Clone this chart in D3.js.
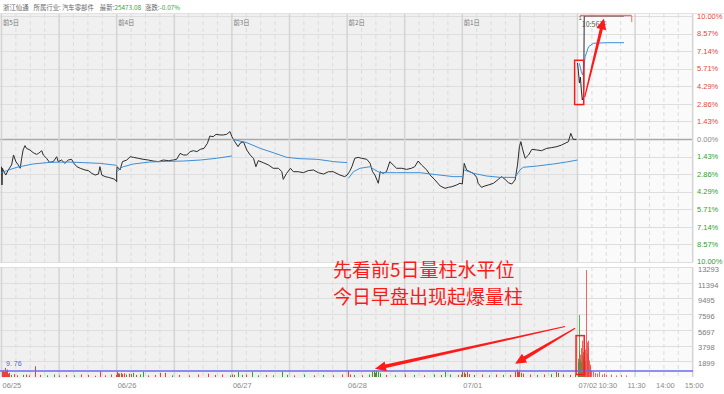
<!DOCTYPE html>
<html>
<head>
<meta charset="utf-8">
<title>浙江仙通 五日分时</title>
<script src="https://d3js.org/d3.v7.min.js"></script>
<style>
  body { margin: 0; background: #fff; }
  svg text { font-family: "Liberation Sans Narrow", "Liberation Sans", Arial, sans-serif; }
  svg .cn { font-family: "Noto Sans CJK SC", sans-serif; }
</style>
</head>
<body>
<svg id="grafico" width="724" height="394"></svg>
<script>
// ---- dados ----
var diasLabel = ["前5日", "前4日", "前3日", "前2日", "前1日"];
var datas = ["06/25", "06/26", "06/27", "06/28", "07/01", "07/02"];
var horasHoje = [[60, "10:30"], [120, "11:30"], [180, "14:00"], [240, "15:00"]];
var ticksPct = [10, 8.57, 7.14, 5.71, 4.29, 2.86, 1.43, 0, -1.43, -2.86, -4.29, -5.71, -7.14, -8.57, -10];
var ticksVol = [1899, 3798, 5697, 7596, 9495, 11394, 13293];
var nivelVol = 725, nivelVolTexto = "9. 76";

// preco: [minuto do dia, % variacao]
var preco1 = [[0,-2.25],[1,-3.74],[2,-2.38],[5,-2.66],[9,-2.93],[14,-2.52],[21,-2.11],[25,-1.30],[30,-1.84],[35,-2.11],[39,-2.38],[42,-1.57],[45,-0.89],[49,-0.54],[52,-0.76],[59,-0.89],[66,-1.11],[73,-1.25],[77,-1.17],[84,-0.95],[87,-1.30],[94,-1.57],[100,-1.90],[108,-1.84],[115,-1.44],[118,-1.84],[125,-1.71],[132,-1.98],[139,-1.71],[146,-1.65],[151,-1.98],[157,-2.25],[164,-2.38],[174,-2.52],[181,-2.57],[188,-2.79],[195,-2.93],[202,-2.85],[205,-2.25],[209,-2.93],[216,-3.06],[223,-3.12],[230,-3.20],[236,-3.28],[240,-3.47]];
var preco2 = [[0,-2.66],[1,-2.25],[7,-2.52],[12,-1.84],[21,-1.71],[28,-1.44],[35,-1.49],[45,-1.57],[55,-1.65],[66,-1.71],[76,-1.79],[87,-1.84],[97,-1.71],[108,-1.76],[118,-1.71],[125,-1.65],[132,-1.17],[139,-1.30],[146,-1.30],[153,-1.03],[160,-0.95],[167,-1.03],[174,-0.84],[182,-0.76],[189,-0.35],[194,0.24],[201,0.19],[207,0.38],[215,0.33],[222,0.33],[229,0.38],[236,0.60],[240,0.19]];
var preco3 = [[2,0.05],[6,-0.22],[13,-0.62],[17,-0.35],[24,-0.22],[31,-0.89],[38,-1.30],[45,-1.57],[50,-2.25],[55,-1.76],[65,-1.92],[76,-2.11],[86,-2.38],[97,-2.38],[104,-2.66],[107,-3.28],[114,-2.79],[122,-2.38],[128,-2.66],[138,-2.66],[149,-2.74],[159,-2.57],[170,-2.52],[180,-2.74],[191,-2.85],[201,-2.66],[211,-2.66],[225,-2.93],[235,-3.06],[240,-2.93]];
var preco4 = [[5,-2.66],[10,-2.25],[16,-1.57],[23,-1.49],[30,-1.57],[41,-1.65],[48,-1.98],[53,-2.66],[58,-2.93],[65,-3.60],[69,-2.66],[75,-2.79],[82,-2.66],[89,-1.84],[96,-2.11],[103,-2.38],[114,-2.38],[124,-2.47],[134,-2.38],[141,-2.25],[148,-1.79],[155,-2.11],[166,-2.52],[173,-2.93],[183,-3.33],[194,-3.82],[204,-4.01],[211,-3.93],[218,-3.88],[228,-3.74],[235,-3.60],[240,-3.66]];
var preco5 = [[4,-1.98],[9,-2.52],[16,-2.66],[23,-2.79],[30,-3.12],[33,-3.60],[40,-3.93],[47,-3.82],[54,-3.74],[65,-3.60],[75,-3.28],[82,-3.06],[89,-3.28],[96,-3.55],[103,-3.66],[110,-3.33],[115,-2.11],[119,-0.62],[122,-0.22],[126,-0.89],[131,-1.57],[138,-1.30],[145,-0.84],[155,-0.89],[165,-0.95],[176,-0.76],[186,-0.70],[197,-0.62],[207,-0.49],[214,-0.35],[221,-0.22],[226,0.46],[231,-0.03],[238,-0.03]];
var preco6 = [[0,6.18],[2,5.45],[4,4.55],[6,5.04],[8,3.98],[10,3.17],[12,3.41],[13,4.23],[14,10],[97,10]];

// media (linha azul)
var media1 = [[0,-2.74],[11,-2.57],[32,-2.30],[66,-2.03],[101,-1.90],[136,-1.87],[170,-1.92],[205,-1.98],[240,-2.14]];
var media2 = [[1,-2.66],[7,-2.38],[14,-2.25],[35,-2.03],[69,-1.87],[104,-1.82],[139,-1.79],[174,-1.71],[208,-1.57],[240,-1.38]];
var media3 = [[2,-0.03],[31,-0.30],[59,-0.76],[86,-1.11],[114,-1.49],[142,-1.60],[177,-1.65],[204,-1.79],[211,-1.84],[240,-1.92]];
var media4 = [[3,-3.20],[13,-2.66],[27,-2.38],[48,-2.25],[58,-2.52],[69,-2.74],[103,-2.74],[152,-2.74],[186,-2.90],[221,-3.06],[240,-3.06]];
var media5 = [[4,-2.52],[23,-2.79],[51,-3.01],[79,-3.12],[110,-3.12],[120,-2.52],[127,-2.30],[155,-2.20],[190,-2.03],[217,-1.87],[240,-1.71]];
var media6 = [[4,6.15],[8,5.47],[11,5.20],[16,6.69],[23,7.50],[33,7.78],[61,7.83],[97,7.83]];

// volume: [minuto, volume, 1 = sobe (vermelho) / -1 = desce (verde)]
var vol1 = [[0,700,1],[1,500,1],[3,850,1],[5,600,1],[7,1100,1],[9,750,1],[11,900,1],[13,400,1],[16,500,1],[20,250,-1],[25,350,1],[32,200,1],[45,250,-1],[50,300,1],[58,200,1],[70,1300,1],[80,250,1],[95,200,-1],[110,300,-1],[120,200,1],[135,250,1],[150,200,-1],[165,300,1],[180,250,1],[195,150,1],[205,700,1],[215,200,1],[228,300,1],[238,250,1]];
var vol2 = [[0,600,1],[2,450,1],[5,400,-1],[8,500,1],[12,350,1],[16,450,1],[20,300,-1],[25,400,1],[30,350,1],[34,500,-1],[40,250,1],[48,300,-1],[55,600,-1],[65,200,1],[80,250,1],[90,500,1],[100,500,1],[115,200,-1],[130,250,1],[150,200,1],[170,300,1],[190,400,1],[205,250,1],[220,300,1],[235,200,-1]];
var vol3 = [[0,300,1],[5,250,-1],[13,600,-1],[20,250,-1],[30,300,1],[42,600,-1],[55,200,-1],[70,250,1],[85,200,-1],[104,650,-1],[115,250,-1],[130,200,1],[150,300,-1],[170,200,1],[190,250,-1],[210,200,1],[230,300,1]];
var vol4 = [[1,750,1],[5,300,1],[15,250,-1],[30,200,1],[45,300,-1],[52,650,-1],[55,800,-1],[58,500,1],[61,750,-1],[64,600,-1],[68,450,-1],[80,250,1],[100,200,-1],[120,300,1],[140,250,-1],[160,200,1],[180,300,-1],[195,250,1],[204,600,-1],[215,300,-1],[230,250,1],[238,300,-1]];
var vol5 = [[0,650,1],[3,550,1],[6,400,-1],[10,600,1],[14,350,1],[25,250,-1],[40,300,1],[55,200,-1],[70,300,1],[85,250,-1],[100,250,1],[110,700,1],[113,900,1],[116,600,1],[119,800,1],[122,500,-1],[126,400,1],[140,300,1],[155,250,-1],[170,300,1],[185,350,-1],[195,600,1],[200,500,-1],[210,300,1],[225,250,1],[235,300,-1]];
var vol6 = [[0,1500,1],[1,2200,1],[2,1800,-1],[3,3200,1],[4,7490,-1],[5,2700,1],[6,2000,-1],[7,3500,1],[8,1800,1],[9,2600,-1],[10,4400,1],[11,2200,1],[12,3000,-1],[13,1600,1],[14,2400,1],[15,1900,1],[16,3300,1],[18,12930,1],[19,4200,1],[20,2800,1],[21,4400,1],[22,3600,1],[23,2000,1],[25,1200,1],[27,1500,1],[29,800,1],[32,700,1],[36,500,1],[40,400,1],[45,600,1],[50,300,1],[55,400,1],[60,250,1],[70,300,1],[80,200,1],[90,250,1],[100,200,1]];

var precos = [preco1, preco2, preco3, preco4, preco5, preco6];
var medias = [media1, media2, media3, media4, media5, media6];
var volumes = [vol1, vol2, vol3, vol4, vol5, vol6];

// ---- desenho ----
var svg = d3.select("#grafico");
var larguraPlot = 693;
var topoPreco = 14, baseVol = 377;

var x = d3.scaleLinear().domain([0, 6 * 240]).range([1.5, 692.7]);
var yP = d3.scaleLinear().domain([-10, 10]).range([262, 16]);
var yV = d3.scaleLinear().domain([0, 13293]).range([baseVol, 267]);

var vermelho = "#e8413c", verde = "#2ea02e";

// fundos
svg.append("rect").attr("x", 0).attr("y", topoPreco).attr("width", larguraPlot).attr("height", 262 - topoPreco).attr("fill", "#f0f0f0");
svg.append("rect").attr("x", 0).attr("y", 267).attr("width", larguraPlot).attr("height", baseVol - 267 + 1).attr("fill", "#f0f0f0");
svg.append("rect").attr("x", x(1200)).attr("y", topoPreco).attr("width", larguraPlot - x(1200)).attr("height", 262 - topoPreco).attr("fill", "#fafafa");
svg.append("rect").attr("x", x(1200)).attr("y", 267).attr("width", larguraPlot - x(1200)).attr("height", baseVol - 267 + 1).attr("fill", "#fafafa");
svg.append("line").attr("x1", 0).attr("x2", 724).attr("y1", topoPreco - 0.5).attr("y2", topoPreco - 0.5).attr("stroke", "#e2e2e2");

// grade horizontal
svg.append("g").selectAll("line").data(ticksPct).join("line")
  .attr("x1", 0).attr("x2", larguraPlot)
  .attr("y1", d => Math.round(yP(d)) + 0.5).attr("y2", d => Math.round(yP(d)) + 0.5)
  .attr("stroke", d => d === 0 ? "#a9a9a9" : "#dedede")
  .attr("stroke-width", d => d === 0 ? 1.5 : 1);
svg.append("g").selectAll("line").data(ticksVol).join("line")
  .attr("x1", 0).attr("x2", larguraPlot)
  .attr("y1", d => Math.round(yV(d)) + 0.5).attr("y2", d => Math.round(yV(d)) + 0.5)
  .attr("stroke", "#dedede");

// grade vertical: cada 30 min, solida no inicio do dia e no meio-dia
var meiaHoras = d3.range(0, 49).map(i => i * 30);
[[topoPreco, 262], [267, baseVol]].forEach(function (faixa) {
  svg.append("g").selectAll("line").data(meiaHoras).join("line")
    .attr("x1", d => x(d)).attr("x2", d => x(d))
    .attr("y1", faixa[0]).attr("y2", faixa[1])
    .attr("stroke", d => d % 120 === 0 ? "#d4d4d4" : "#dcdcdc")
    .attr("stroke-width", d => d % 120 === 0 ? 1.5 : 1)
    .attr("stroke-dasharray", d => d % 120 === 0 ? null : "4,3");
});

// eixo direito (percentual)
svg.append("g").selectAll("text").data(ticksPct).join("text")
  .attr("x", 697).attr("y", d => d === -10 ? yP(d) + 1.5 : yP(d) + 2.7)
  .attr("font-size", 7.5)
  .attr("fill", d => d > 0 ? vermelho : (d < 0 ? verde : "#8a8a8a"))
  .text(d => Math.abs(d).toFixed(2) + "%");
// eixo direito (volume)
svg.append("g").selectAll("text").data(ticksVol).join("text")
  .attr("x", 698).attr("y", d => yV(d) + 4.8)
  .attr("font-size", 7.5).attr("fill", "#7a7a7a")
  .text(d => d);

// eixo x
svg.append("g").selectAll("text").data(datas).join("text")
  .attr("x", (d, i) => x(i * 240) + 1).attr("y", 388)
  .attr("font-size", 7.5).attr("fill", "#8a8a8a")
  .text(d => d);
svg.append("g").selectAll("text").data(horasHoje).join("text")
  .attr("x", d => x(1200 + d[0]) + 1.5).attr("y", 388)
  .attr("text-anchor", "middle")
  .attr("font-size", 7.5).attr("fill", "#8a8a8a")
  .text(d => d[1]);

// rotulos dos dias
svg.append("g").selectAll("text").data(diasLabel).join("text")
  .attr("class", "cn")
  .attr("x", (d, i) => x(i * 240) + 1.5).attr("y", 25)
  .attr("font-size", 6.3).attr("fill", "#777")
  .text(d => d);

// cabecalho
var cab = svg.append("text").attr("class", "cn").attr("x", 3).attr("y", 9.5).attr("font-size", 6.4).attr("fill", "#666");
cab.append("tspan").text("浙江仙通");
cab.append("tspan").attr("dx", 5).text("所属行业:");
cab.append("tspan").attr("dx", 1).text("汽车零部件");
cab.append("tspan").attr("dx", 6).text("最新:");
cab.append("tspan").attr("fill", "#2aa52a").text("25473.08");
cab.append("tspan").attr("dx", 4).text("涨跌:");
cab.append("tspan").attr("fill", "#2aa52a").text("-0.07%");

// linhas de preco e media (hoje comeca separado, gap de abertura)
var linha = d3.line();
var antes = [];
precos.slice(0, 5).forEach(function (dia, i) {
  dia.forEach(d => antes.push([x(i * 240 + d[0]), yP(d[1])]));
});
svg.append("path").attr("d", linha(antes))
  .attr("fill", "none").attr("stroke", "#2b2b2b").attr("stroke-width", 1);
svg.append("path").attr("d", linha(preco6.map(d => [x(1200 + d[0]), yP(d[1])])))
  .attr("fill", "none").attr("stroke", "#2b2b2b").attr("stroke-width", 1);
medias.forEach(function (dia, i) {
  svg.append("path")
    .attr("d", linha(dia.map(d => [x(i * 240 + d[0]), yP(d[1])])))
    .attr("fill", "none").attr("stroke", "#3d8fd6").attr("stroke-width", 1);
});

// barras de volume
volumes.forEach(function (dia, i) {
  svg.append("g").selectAll("line").data(dia).join("line")
    .attr("x1", d => Math.round(x(i * 240 + d[0])) + 0.5)
    .attr("x2", d => Math.round(x(i * 240 + d[0])) + 0.5)
    .attr("y1", yV(0)).attr("y2", d => yV(d[1]))
    .attr("stroke", d => d[2] > 0 ? vermelho : verde)
    .attr("stroke-opacity", i === 5 ? 0.8 : 1);
});

// linha azul de nivel do volume
svg.append("line").attr("x1", 0).attr("x2", larguraPlot)
  .attr("y1", yV(nivelVol)).attr("y2", yV(nivelVol))
  .attr("stroke", "#6b6bf0").attr("stroke-width", 1.5);
svg.append("text").attr("x", 6).attr("y", yV(nivelVol) - 5)
  .attr("font-size", 7).attr("fill", "#5a5ae8").text(nivelVolTexto);

// ---- marcacoes em vermelho ----
var marca = "#ff1a1a";
// linha do limite de alta + hora do cursor
svg.append("line").attr("x1", x(1205)).attr("x2", x(1313))
  .attr("y1", yP(10) - 0.5).attr("y2", yP(10) - 0.5).attr("stroke", "#f07070").attr("stroke-width", 1.5);
svg.append("line").attr("x1", x(1313)).attr("x2", x(1313))
  .attr("y1", yP(10)).attr("y2", yP(9.5)).attr("stroke", "#f07070");
svg.append("text").attr("x", x(1200) + 1).attr("y", yP(9.7)).attr("font-size", 6).attr("fill", "#555").text("1");
svg.append("text").attr("class", "cn").attr("x", x(1209)).attr("y", yP(9.1))
  .attr("font-size", 7).attr("fill", "#555").text("10:56开");

function caixa(m0, m1, y0, y1) {
  svg.append("rect").attr("x", x(m0)).attr("y", y0).attr("width", x(m1) - x(m0)).attr("height", y1 - y0)
    .attr("fill", "none").attr("stroke", marca).attr("stroke-width", 1.5);
}
caixa(1194, 1213, yP(6.4), yP(2.8));
caixa(1197, 1214, yV(5000), yV(300));

function seta(x1, y1, x2, y2, larg) {
  var dx = x2 - x1, dy = y2 - y1, L = Math.hypot(dx, dy);
  var ux = dx / L, uy = dy / L, nx = -uy, ny = ux;
  var cab = 11, abre = 5;
  var bx = x2 - ux * cab, by = y2 - uy * cab;
  var pts = [
    [x1 + nx * 0.6, y1 + ny * 0.6],
    [bx + nx * larg, by + ny * larg],
    [bx + nx * abre, by + ny * abre],
    [x2, y2],
    [bx - nx * abre, by - ny * abre],
    [bx - nx * larg, by - ny * larg],
    [x1 - nx * 0.6, y1 - ny * 0.6]
  ];
  svg.append("polygon").attr("points", pts.map(p => p.join(",")).join(" ")).attr("fill", marca);
}
seta(x(1215), yP(3.4), x(1255), yP(9.8), 1.6);
seta(x(1174), yV(6100), x(778), yV(1000), 1.8);
seta(x(1195), yV(5900), x(1070), yV(1600), 1.8);

svg.append("text").attr("class", "cn").attr("x", 333).attr("y", 277)
  .attr("font-size", 19).attr("fill", marca).text("先看前5日量柱水平位");
svg.append("text").attr("class", "cn").attr("x", 333).attr("y", 304)
  .attr("font-size", 19).attr("fill", marca).text("今日早盘出现起爆量柱");
</script>
</body>
</html>
